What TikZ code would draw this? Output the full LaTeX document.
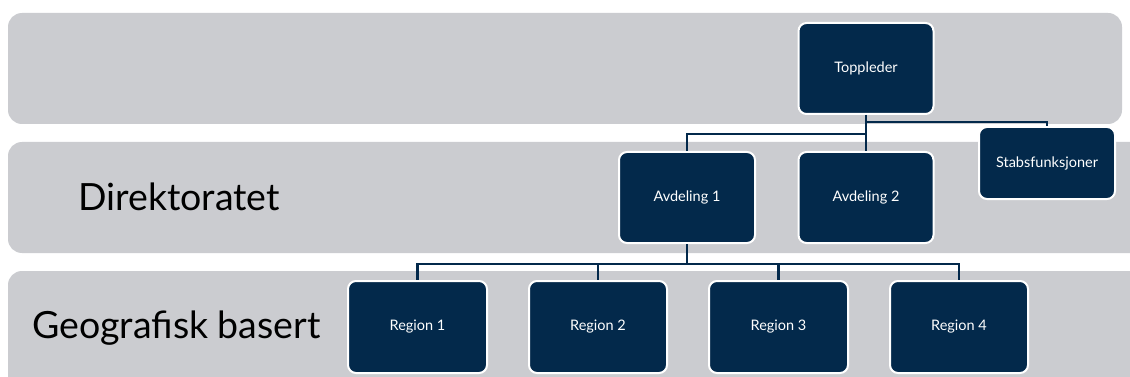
\documentclass[tikz,border=0pt]{standalone}
\usepackage{fontspec}
\setmainfont{Lato}
\definecolor{band}{HTML}{CBCCD0}
\definecolor{navy}{HTML}{03294B}
\tikzset{
  bandbox/.style={fill=band, draw=none, rounded corners=14pt},
  orgbox/.style={fill=navy, draw=white, line width=2pt, rounded corners=8pt,
    text=white, font=\fontsize{14.5}{16}\selectfont, minimum width=#1, minimum height=91pt, inner sep=0pt},
  conn/.style={draw=navy, line width=2.2pt},
  bigtext/.style={font=\fontsize{37.5}{42}\selectfont, anchor=base west, inner sep=0pt, text=black}
}
\begin{document}
\begin{tikzpicture}[x=1pt,y=-1pt]
\clip (0,0) rectangle (1130,377);
\fill[white] (0,0) rectangle (1130,377);
\path[bandbox] (8,13) rectangle (1122,124);
\path[bandbox] (8,142) rectangle (1160,253);
\path[bandbox] (8,271) rectangle (1160,400);
\node[bigtext] (dir) at (78,210) {Direktoratet};
\node[bigtext] (geo) at (32,338) {Geografisk basert};
\node[orgbox=135pt] (top) at (866,68.5) {Toppleder};
\node[orgbox=136pt, minimum height=72pt] (stab) at (1047,163) {Stabsfunksjoner};
\node[orgbox=136pt] (a1) at (687,197.5) {Avdeling 1};
\node[orgbox=135pt] (a2) at (866,197.5) {Avdeling 2};
\node[orgbox=139pt, minimum height=92pt] (r1) at (417.5,327) {Region 1};
\node[orgbox=138pt, minimum height=92pt] (r2) at (598,327) {Region 2};
\node[orgbox=139pt, minimum height=92pt] (r3) at (778.5,327) {Region 3};
\node[orgbox=138pt, minimum height=92pt] (r4) at (959,327) {Region 4};
\draw[conn] (top.south) -- ++(0,19) -| (a1.north);
\draw[conn] (top.south) -- (a2.north);
\draw[conn] (top.south) ++(0,7) -| (stab.north);
\draw[conn] (a1.south) -- ++(0,20) -| (r1.north);
\draw[conn] (a1.south) ++(0,20) -| (r2.north);
\draw[conn] (a1.south) ++(0,20) -| (r3.north);
\draw[conn] (a1.south) ++(0,20) -| (r4.north);
\end{tikzpicture}
\end{document}
